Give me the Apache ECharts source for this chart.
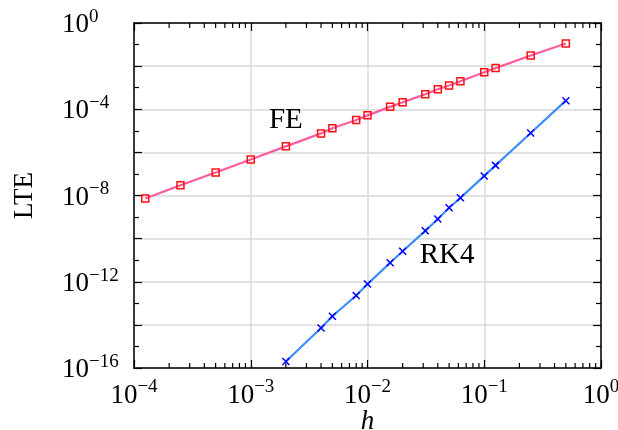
<!DOCTYPE html>
<html>
<head>
<meta charset="utf-8">
<script src="https://cdn.jsdelivr.net/npm/echarts@6/dist/echarts.min.js"></script>
<style>
  html, body { margin: 0; padding: 0; background: #fff; }
  #chart { width: 618px; height: 430px; }
</style>
</head>
<body>
<div id="chart"></div>
<script>
// Step sizes h and local truncation errors for Forward Euler and RK4
const hFE = [1.25e-4, 2.5e-4, 5e-4, 1e-3, 2e-3, 4e-3, 5e-3, 8e-3, 0.01, 0.015625,
             0.02, 0.03125, 0.04, 0.05, 0.0625, 0.1, 0.125, 0.25, 0.5];
const lteFE = [7.2e-9, 3.0e-8, 1.17e-7, 4.7e-7, 1.9e-6, 7.6e-6, 1.32e-5, 3.2e-5, 5.2e-5, 1.29e-4,
               2.1e-4, 5.0e-4, 8.5e-4, 1.26e-3, 2.0e-3, 5.2e-3, 8.1e-3, 0.031, 0.112];

const hRK4 = [2e-3, 4e-3, 5e-3, 8e-3, 0.01, 0.015625, 0.02, 0.03125, 0.04, 0.05,
              0.0625, 0.1, 0.125, 0.25, 0.5];
const lteRK4 = [2.0e-16, 7.2e-15, 2.5e-14, 2.3e-13, 7.8e-13, 7.6e-12, 2.6e-11, 2.3e-10, 8.1e-10, 2.7e-9,
                7.8e-9, 8.1e-8, 2.5e-7, 7.9e-6, 2.5e-4];

// Decade exponents that carry a tick label
const xLabelExps = [-4, -3, -2, -1, 0];
const yLabelExps = [-16, -12, -8, -4, 0];

// Series annotations (placed in data space: h, LTE)
const annotations = [
  { name: 'FE', h: 2.0e-3, lte: 3.2e-5 },
  { name: 'RK4', h: 4.8e-2, lte: 1.65e-11 }
];

const SERIF = '"Liberation Serif", "DejaVu Serif", serif';
const log10 = Math.log10;

// Logarithmic minor tick positions (2..9 × 10^d) along h
const xMinor = [];
for (let d = -4; d < 0; d++) {
  for (let k = 2; k <= 9; k++) xMinor.push([log10(k * Math.pow(10, d)), 0]);
}

function powLabel(v, allowed) {
  const e = Math.round(v);
  if (Math.abs(v - e) > 1e-9 || allowed.indexOf(e) < 0) return '';
  return '{b|10}{s|' + (e === 0 ? '0' : '\u2212' + Math.abs(e)) + '}';
}

const richLabel = {
  b: { fontFamily: SERIF, fontSize: 27, color: '#000', verticalAlign: 'bottom', lineHeight: 31 },
  s: { fontFamily: SERIF, fontSize: 19, color: '#000', verticalAlign: 'top', lineHeight: 19 }
};

const frame = { show: true, onZero: false, lineStyle: { color: '#000', width: 1.5 } };
const majorTick = { show: true, inside: true, length: 8, lineStyle: { color: '#000', width: 1.2 } };
const yMinorTick = { show: true, splitNumber: 2, length: 5, lineStyle: { color: '#000', width: 1.2 } };
const gridLine = { show: true, lineStyle: { color: '#d9d9d9', width: 1.5 } };

function annotationPoint(a) {
  return {
    symbol: 'circle', symbolSize: 1,
    itemStyle: { color: 'rgba(0,0,0,0)' },
    label: { show: true, position: 'inside', formatter: p => p.name,
             fontFamily: SERIF, fontSize: 29, color: '#000' },
    data: [{ name: a.name, coord: [log10(a.h), log10(a.lte)] }]
  };
}

const chart = echarts.init(document.getElementById('chart'), null, { renderer: 'canvas' });

chart.setOption({
  animation: false,
  backgroundColor: '#fff',
  grid: { left: 134, right: 17, top: 23, bottom: 62, containLabel: false, outerBoundsMode: 'none' },
  xAxis: [
    {
      type: 'value', min: -4, max: 0, interval: 1, position: 'bottom',
      name: 'h', nameLocation: 'middle', nameGap: 40, nameMoveOverlap: false,
      nameTextStyle: { fontFamily: SERIF, fontSize: 27, fontStyle: 'italic', color: '#000' },
      axisLine: frame, axisTick: majorTick, splitLine: gridLine,
      axisLabel: {
        margin: 10, showMinLabel: true, showMaxLabel: true, hideOverlap: false,
        formatter: v => powLabel(v, xLabelExps), rich: richLabel
      }
    },
    {
      type: 'value', min: -4, max: 0, interval: 1, position: 'top',
      axisLine: frame, axisTick: majorTick,
      splitLine: { show: false }, axisLabel: { show: false }
    }
  ],
  yAxis: [
    {
      type: 'value', min: -16, max: 0, interval: 2, position: 'left',
      name: 'LTE', nameLocation: 'middle', nameGap: 96, nameRotate: 90,
      nameTextStyle: { fontFamily: SERIF, fontSize: 27, color: '#000' },
      axisLine: frame, axisTick: majorTick, minorTick: yMinorTick, splitLine: gridLine,
      axisLabel: {
        margin: 72, align: 'left', showMinLabel: true, showMaxLabel: true, hideOverlap: false,
        formatter: v => powLabel(v, yLabelExps), rich: richLabel
      }
    },
    {
      type: 'value', min: -16, max: 0, interval: 2, position: 'right',
      axisLine: frame, axisTick: majorTick, minorTick: yMinorTick,
      splitLine: { show: false }, axisLabel: { show: false }
    }
  ],
  series: [
    {
      name: 'FE', type: 'line', xAxisIndex: 0, yAxisIndex: 0,
      data: hFE.map((h, i) => [log10(h), log10(lteFE[i])]),
      lineStyle: { color: '#ff5ca0', width: 2.2 },
      symbol: 'rect', symbolSize: 7, showAllSymbol: true,
      itemStyle: { color: 'rgba(255,255,255,0)', borderColor: '#ff1010', borderWidth: 1.5 },
      z: 3,
      markPoint: annotationPoint(annotations[0])
    },
    {
      name: 'RK4', type: 'line', xAxisIndex: 0, yAxisIndex: 0,
      data: hRK4.map((h, i) => [log10(h), log10(lteRK4[i])]),
      lineStyle: { color: '#3a8cff', width: 2.2 },
      symbol: 'path://M0,0L10,10M10,0L0,10', symbolSize: 7, showAllSymbol: true,
      itemStyle: { color: 'none', borderColor: '#0000ff', borderWidth: 1.5 },
      z: 3,
      markPoint: annotationPoint(annotations[1])
    },
    {
      // logarithmic minor ticks on the bottom and top frame
      type: 'custom', xAxisIndex: 0, yAxisIndex: 0, silent: true, z: 5,
      data: xMinor,
      renderItem: function (params, api) {
        const v = api.value(0);
        const b = api.coord([v, -16]);
        const t = api.coord([v, 0]);
        const st = { stroke: '#000', lineWidth: 1.2 };
        return {
          type: 'group',
          children: [
            { type: 'line', shape: { x1: b[0], y1: b[1], x2: b[0], y2: b[1] - 5 }, style: st },
            { type: 'line', shape: { x1: t[0], y1: t[1], x2: t[0], y2: t[1] + 5 }, style: st }
          ]
        };
      }
    }
  ]
});
</script>
</body>
</html>
